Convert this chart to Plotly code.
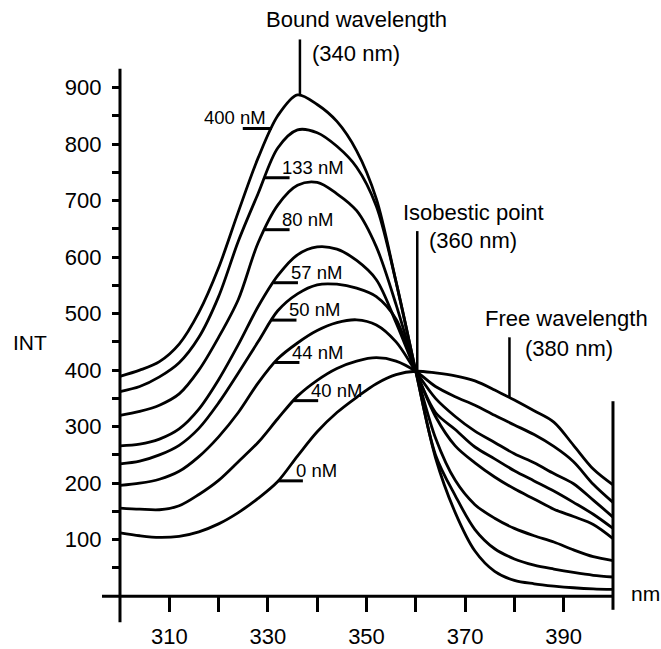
import numpy as np
import plotly.graph_objects as go

# Emission wavelength grid (nm)
wavelength_nm = [300, 304, 308, 312, 316, 320, 324, 328, 332, 336, 340, 344, 348,
                 352, 356, 360, 364, 368, 372, 376, 380, 384, 388, 392, 396, 400]

# Fluorescence intensity (INT) for each probe concentration
int_0nM = [112, 107, 104, 106, 114, 128, 148, 173, 203, 248, 291, 325, 352,
           376, 392, 398, 395, 390, 381, 365, 347, 328, 308, 267, 225, 197]
int_40nM = [156, 154, 153, 160, 180, 205, 238, 272, 314, 354, 382, 403, 416,
            422, 416, 398, 371, 353, 338, 320, 303, 286, 265, 238, 198, 166]
int_44nM = [196, 200, 207, 221, 247, 282, 325, 377, 420, 448, 470, 484, 489,
            480, 450, 398, 350, 318, 292, 272, 252, 236, 217, 199, 170, 140]
int_50nM = [234, 239, 250, 267, 297, 342, 395, 450, 505, 535, 551, 552, 545,
            530, 490, 398, 325, 295, 264, 243, 222, 204, 186, 166, 145, 120]
int_57nM = [266, 269, 278, 296, 331, 383, 445, 512, 567, 604, 618, 614, 594,
            560, 484, 398, 318, 266, 236, 211, 190, 172, 154, 141, 127, 102]
int_80nM = [320, 327, 338, 358, 400, 458, 525, 625, 692, 727, 732, 712, 682,
            618, 516, 398, 280, 205, 162, 138, 120, 107, 96, 82, 70, 63]
int_133nM = [362, 371, 388, 413, 458, 530, 628, 712, 793, 825, 820, 796, 759,
             690, 556, 398, 250, 178, 118, 84, 66, 55, 48, 42, 37, 34]
int_400nM = [389, 400, 415, 446, 502, 581, 680, 775, 850, 887, 870, 840, 788,
             703, 556, 398, 245, 148, 80, 44, 28, 22, 18, 15, 13, 12]

concentration_labels = ["0 nM", "40 nM", "44 nM", "50 nM", "57 nM", "80 nM", "133 nM", "400 nM"]
series = [int_0nM, int_40nM, int_44nM, int_50nM, int_57nM, int_80nM, int_133nM, int_400nM]

# Axis ticks
x_tick_values = [310, 320, 330, 340, 350, 360, 370, 380, 390]
x_tick_labels = ["310", "", "330", "", "350", "", "370", "", "390"]
y_tick_values = [50, 100, 150, 200, 250, 300, 350, 400, 450, 500, 550, 600, 650, 700, 750, 800, 850, 900]
y_tick_labels = ["", "100", "", "200", "", "300", "", "400", "", "500", "", "600", "", "700", "", "800", "", "900"]

# Where each concentration label's leader touches its curve (nm)
label_touch_nm = {"0 nM": 332.1, "40 nM": 335.2, "44 nM": 331.4, "50 nM": 330.8,
                  "57 nM": 331.1, "80 nM": 329.4, "133 nM": 329.4, "400 nM": 330.8}

# Marked wavelengths
bound_nm, isobestic_nm, free_nm = 336.5, 360.3, 379.0

# ---- geometry of the drawing area ----
W, H = 661, 649
X_LO, X_HI = 300, 400
X_RANGE = [275.66, 409.74]
Y_RANGE = [-73.9, 1054.8]
FONT = "Liberation Sans, Arial, sans-serif"
INK = "black"

fig = go.Figure()

for name, values in zip(concentration_labels, series):
    fig.add_trace(go.Scatter(
        x=wavelength_nm, y=values, mode="lines", name=name,
        line=dict(color=INK, width=2.8, shape="spline", smoothing=0.9),
        hoverinfo="skip"))

shapes = []
annotations = []

def seg(x0, y0, x1, y1, w=3):
    shapes.append(dict(type="line", xref="x", yref="y", x0=x0, y0=y0, x1=x1, y1=y1,
                       line=dict(color=INK, width=w), layer="above"))

def text(x, y, s, size=22, xanchor="center", yanchor="middle"):
    annotations.append(dict(x=x, y=y, xref="x", yref="y", text=s, showarrow=False,
                            xanchor=xanchor, yanchor=yanchor,
                            font=dict(family=FONT, size=size, color=INK)))

# Axis lines (the y axis runs below the baseline, the x axis past the y axis)
seg(X_LO, -46, X_LO, 933)
seg(296.35, 0, X_HI, 0)
seg(X_HI, -24, X_HI, 345)

# Concentration leaders and labels
LEADER_NM = 5.0
for name, values in zip(concentration_labels, series):
    x_touch = label_touch_nm[name]
    y_touch = float(np.interp(x_touch, wavelength_nm, values))
    if name == "400 nM":
        seg(x_touch - 5.9, y_touch, x_touch, y_touch)
        text(x_touch - 0.8, y_touch + 20, name, size=18.5, xanchor="right")
    else:
        seg(x_touch, y_touch, x_touch + LEADER_NM, y_touch)
        text(x_touch + 3.1, y_touch + 18.5, name, size=18.5, xanchor="left")

# Bound wavelength marker
peak_400 = float(np.interp(bound_nm, wavelength_nm, int_400nM))
seg(bound_nm, peak_400, bound_nm, 985, w=2.5)
text(347.9, 1020, "Bound wavelength")
text(347.9, 961, "(340 nm)")

# Isobestic point marker
iso_val = float(np.interp(isobestic_nm, wavelength_nm, int_0nM))
seg(isobestic_nm, iso_val, isobestic_nm, 646, w=2.5)
text(371.7, 679, "Isobestic point")
text(371.6, 629, "(360 nm)")

# Free wavelength marker
free_val = float(np.interp(free_nm, wavelength_nm, int_0nM))
seg(free_nm, free_val, free_nm, 458, w=2.5)
text(390.5, 491, "Free wavelength")
text(391.1, 439, "(380 nm)")

# Axis titles
text(281.7, 449, "INT", size=21)
text(406.5, 5, "nm", size=21)

fig.update_layout(
    width=W, height=H, margin=dict(l=0, r=0, t=0, b=0),
    paper_bgcolor="white", plot_bgcolor="white", showlegend=False,
    shapes=shapes, annotations=annotations,
    xaxis=dict(domain=[0, 1], range=X_RANGE, anchor="free",
               position=(0 - Y_RANGE[0]) / (Y_RANGE[1] - Y_RANGE[0]),
               showline=False, showgrid=False, zeroline=False,
               tickmode="array", tickvals=x_tick_values, ticktext=x_tick_labels,
               ticks="outside", ticklen=15, tickwidth=3, tickcolor=INK,
               ticklabelstandoff=5,
               tickfont=dict(family=FONT, size=22, color=INK)),
    yaxis=dict(domain=[0, 1], range=Y_RANGE, anchor="free",
               position=(X_LO - X_RANGE[0]) / (X_RANGE[1] - X_RANGE[0]),
               showline=False, showgrid=False, zeroline=False,
               tickmode="array", tickvals=y_tick_values, ticktext=y_tick_labels,
               ticks="outside", ticklen=8, tickwidth=3, tickcolor=INK,
               ticklabelstandoff=6,
               tickfont=dict(family=FONT, size=22, color=INK)),
)

fig.write_html("out.html")
